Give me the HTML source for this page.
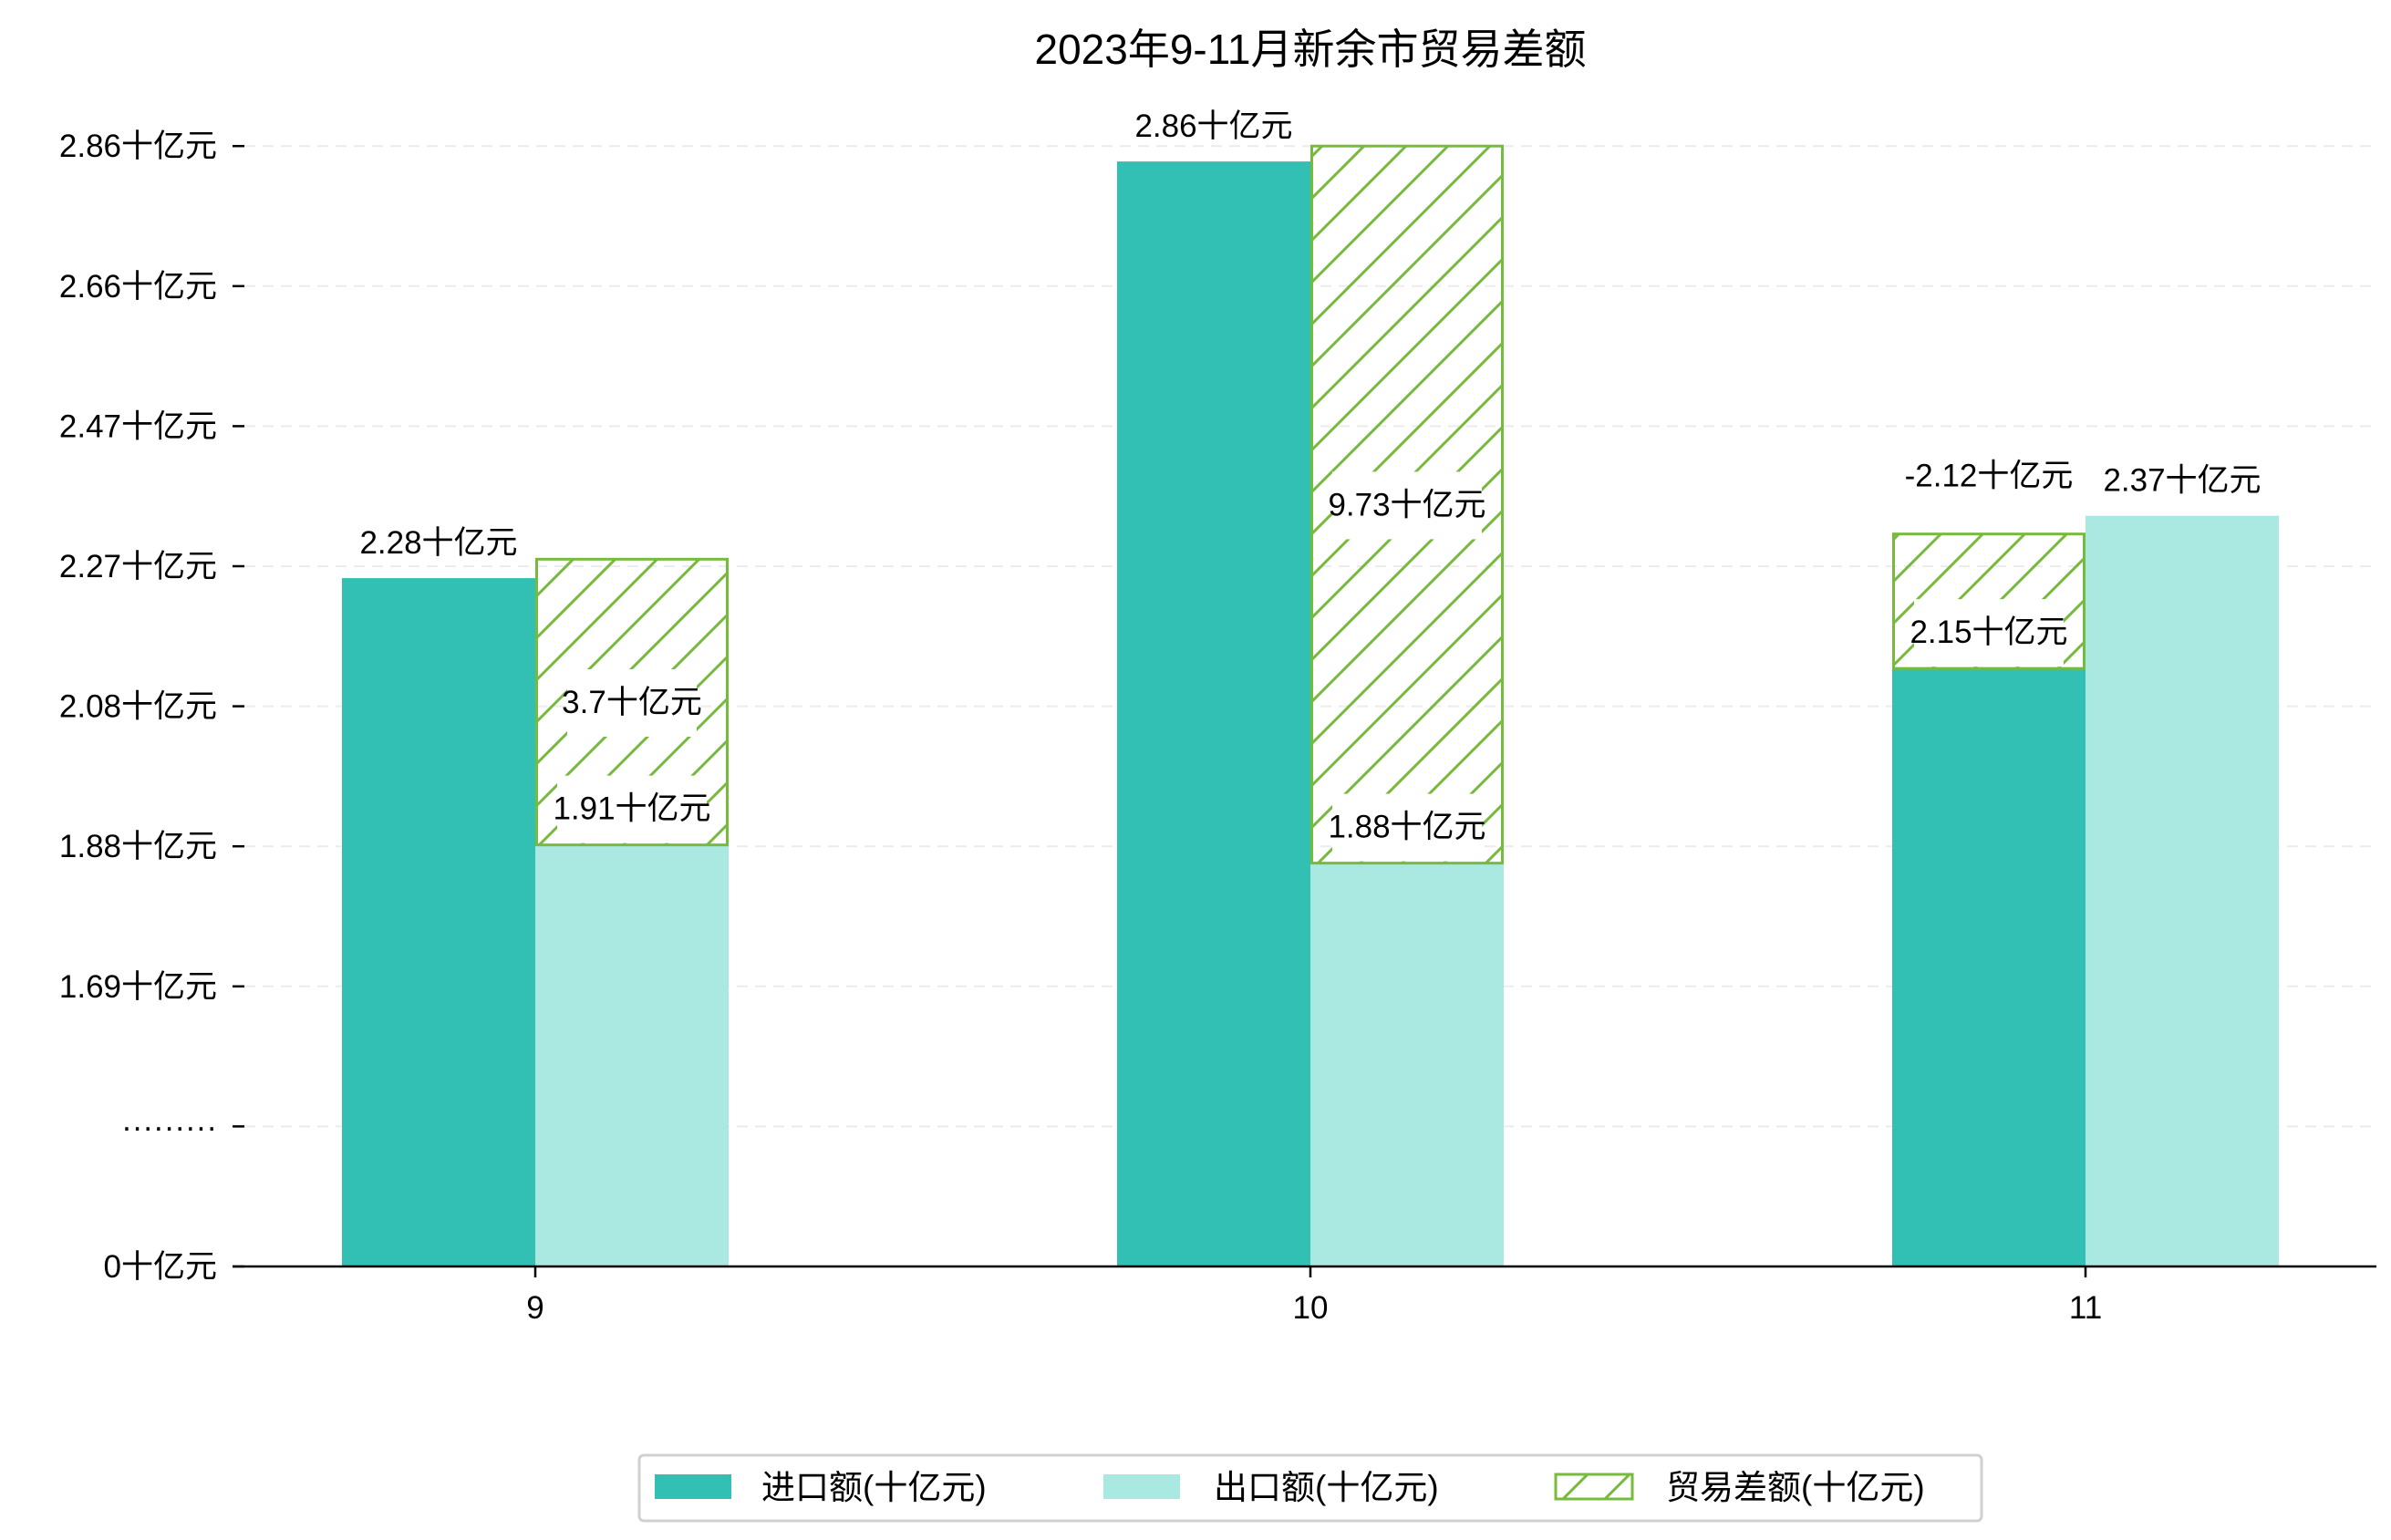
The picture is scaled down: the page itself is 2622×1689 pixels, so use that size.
<!DOCTYPE html>
<html><head><meta charset="utf-8">
<style>
html,body{margin:0;padding:0;background:#fff;}
svg{display:block;}
text{font-family:"Liberation Sans","WenQuanYi Zen Hei","Noto Sans CJK SC",sans-serif;}
</style></head>
<body>
<svg id="chart" width="2622" height="1689" viewBox="0 0 2622 1689" xmlns="http://www.w3.org/2000/svg">
<defs>
<pattern id="hatch" patternUnits="userSpaceOnUse" width="46" height="46">
<path d="M-11.5,11.5 l23,-23 M0,46 l46,-46 M34.5,57.5 l23,-23" stroke="#77bb3e" stroke-width="3"/>
</pattern>
</defs>
<text x="1437" y="70" text-anchor="middle" font-size="46">2023年9-11月新余市贸易差额</text>
<g id="grid"></g><g id="yaxis"></g><g id="bars"></g><g id="labels"></g><g id="xaxis"></g>
<g>
<rect x="701" y="1596" width="1472" height="72" rx="5" fill="#fff" stroke="#d0d0d0" stroke-width="3"/>
<rect x="718" y="1617" width="84" height="27" fill="#31c0b3"/>
<text x="835" y="1644" font-size="37">进口额(十亿元)</text>
<rect x="1210" y="1617" width="84" height="27" fill="#aae8e2"/>
<text x="1331" y="1644" font-size="37">出口额(十亿元)</text>
<rect x="1706" y="1617" width="84" height="27" fill="url(#hatch)" stroke="#77bb3e" stroke-width="3"/>
<text x="1827" y="1644" font-size="37">贸易差额(十亿元)</text>
</g>
</svg>
<script>
// data (values in axis tick units: each tick step = 1)
const categories = ["9", "10", "11"];
const importVals = [4.915, 7.89, 4.27];
const exportVals = [3.01, 2.88, 5.36];
const balanceLow = [3.01, 2.88, 4.27];
const balanceHigh = [5.05, 8.0, 5.23];
const balanceOnImport = [false, false, true];
const importLabels = ["2.28十亿元", "2.86十亿元", "2.15十亿元"];
const exportLabels = ["1.91十亿元", "1.88十亿元", "2.37十亿元"];
const balanceLabels = ["3.7十亿元", "9.73十亿元", "-2.12十亿元"];
const tickVals = [0, 1, 2, 3, 4, 5, 6, 7, 8];
const tickLabels = ["0十亿元", "·········", "1.69十亿元", "1.88十亿元", "2.08十亿元", "2.27十亿元", "2.47十亿元", "2.66十亿元", "2.86十亿元"];

const NS = "http://www.w3.org/2000/svg";
const plotL = 255, plotR = 2606, baseY = 1389, stepPx = 153.6;
const groupStart = 587, groupStep = 850, barW = 212;
function y(v){ return baseY - v * stepPx; }
function xc(i){ return groupStart + i * groupStep; }
function mk(tag, attrs, parent){ const e = document.createElementNS(NS, tag); for (const k in attrs) e.setAttribute(k, attrs[k]); parent.appendChild(e); return e; }

const grid = document.getElementById("grid"), yaxis = document.getElementById("yaxis");
tickVals.forEach((t, i) => {
  if (t > 0) {
    const g = mk("line", {x1: 268, x2: plotR, y1: y(t), y2: y(t), stroke: "#ececec", "stroke-width": 2, "stroke-dasharray": "12,8"}, grid);
    
    
  }
  const tk = mk("line", {x1: 255, x2: 268, y1: y(t), y2: y(t), stroke: "#000", "stroke-width": 2.5}, yaxis);
  
  
  const lb = mk("text", {x: 238, y: y(t) + 12, "text-anchor": "end", "font-size": 35}, yaxis);
  lb.textContent = tickLabels[i];
  
  
});

const bars = document.getElementById("bars"), labels = document.getElementById("labels"), xaxis = document.getElementById("xaxis");
function label(txt, cx, cy, box){
  if (box) {
    const w = txt.length * 22 + 10;
    const r = mk("rect", {x: cx - w/2, y: cy - 36, width: w, height: 74, fill: "#fff"}, labels);
    
    
  }
  const t = mk("text", {x: cx, y: cy + 12, "text-anchor": "middle", "font-size": 35}, labels);
  t.textContent = txt;
  
  
}
categories.forEach((c, i) => {
  const cx = xc(i);
  const bi = mk("rect", {x: cx - barW, y: y(importVals[i]), width: barW, height: baseY - y(importVals[i]), fill: "#31c0b3"}, bars);
  
  
  const be = mk("rect", {x: cx, y: y(exportVals[i]), width: barW, height: baseY - y(exportVals[i]), fill: "#aae8e2"}, bars);
  
  
  const hx = balanceOnImport[i] ? cx - barW : cx;
  const bb = mk("rect", {x: hx + 1.5, y: y(balanceHigh[i]), width: barW - 3, height: y(balanceLow[i]) - y(balanceHigh[i]), fill: "url(#hatch)", stroke: "#77bb3e", "stroke-width": 3}, bars);
  
  
  // labels
  label(exportLabels[i], cx + barW/2, balanceOnImport[i] ? y(exportVals[i]) - 39 : y(exportVals[i]) - 40, !balanceOnImport[i]);
  label(importLabels[i], cx - barW/2, balanceOnImport[i] ? y(importVals[i]) - 40 : y(importVals[i]) - 39, balanceOnImport[i]);
  label(balanceLabels[i], hx + barW/2, (y(balanceHigh[i]) + y(balanceLow[i])) / 2 - (balanceOnImport[i] ? 138 : 0), true);
  const tk = mk("line", {x1: cx, x2: cx, y1: baseY, y2: baseY + 12, stroke: "#000", "stroke-width": 2.5}, xaxis);
  
  
  const xl = mk("text", {x: cx, y: 1446, "text-anchor": "middle", "font-size": 35}, xaxis);
  xl.textContent = c;
  
  
});
const ax = mk("line", {x1: plotL, x2: plotR, y1: baseY, y2: baseY, stroke: "#000", "stroke-width": 2.5}, xaxis);


</script>
</body></html>
